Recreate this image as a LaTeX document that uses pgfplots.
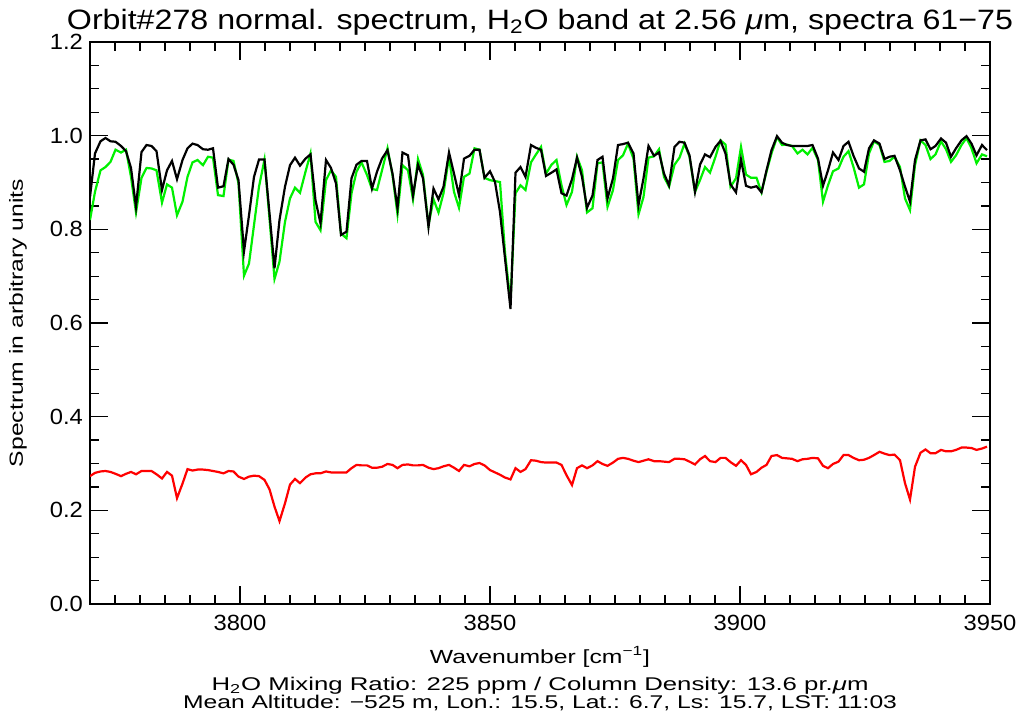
\documentclass[border=0pt]{standalone}
\usepackage{fontspec}
\setmainfont{Liberation Sans}
\newfontfamily\titlefont[FakeStretch=1.15]{Liberation Sans}
\newfontfamily\tickfont[FakeStretch=1.08]{Liberation Sans}
\newfontfamily\notefont[FakeStretch=1.3]{Liberation Sans}
\newfontfamily\lineAfont[FakeStretch=1.4]{Liberation Sans}
\newfontfamily\lineBfont[FakeStretch=1.34]{Liberation Sans}
\usepackage{pgfplots}
\usepackage{pgfplotstable}
\pgfplotsset{compat=1.18}

% columns: wavenumber, normalized spectrum (green), normalized spectrum (black), third spectrum (red)
\pgfplotstableread{
x g k r
3770.0 0.820 0.869 0.273
3771.0 0.880 0.962 0.280
3772.1 0.926 0.988 0.283
3773.1 0.933 0.995 0.284
3774.1 0.944 0.988 0.282
3775.1 0.970 0.987 0.278
3776.2 0.964 0.978 0.273
3777.2 0.970 0.967 0.278
3778.2 0.912 0.931 0.282
3779.2 0.836 0.848 0.277
3780.3 0.910 0.965 0.284
3781.3 0.931 0.980 0.284
3782.3 0.930 0.978 0.284
3783.3 0.926 0.967 0.277
3784.4 0.857 0.884 0.268
3785.4 0.896 0.926 0.282
3786.4 0.889 0.946 0.274
3787.4 0.830 0.907 0.226
3788.5 0.859 0.948 0.257
3789.5 0.912 0.973 0.288
3790.5 0.943 0.983 0.285
3791.5 0.948 0.980 0.287
3792.6 0.937 0.971 0.287
3793.6 0.955 0.970 0.286
3794.6 0.953 0.973 0.284
3795.6 0.873 0.889 0.282
3796.7 0.871 0.892 0.279
3797.7 0.949 0.950 0.284
3798.7 0.946 0.938 0.283
3799.7 0.898 0.905 0.272
3800.8 0.701 0.753 0.267
3801.8 0.727 0.830 0.272
3802.8 0.809 0.912 0.274
3803.8 0.891 0.949 0.273
3804.9 0.949 0.949 0.265
3805.9 0.823 0.834 0.245
3806.9 0.694 0.717 0.208
3807.9 0.731 0.820 0.177
3809.0 0.816 0.891 0.215
3810.0 0.866 0.937 0.255
3811.0 0.889 0.953 0.267
3812.0 0.878 0.936 0.258
3813.1 0.923 0.951 0.270
3814.1 0.962 0.960 0.277
3815.1 0.816 0.862 0.279
3816.1 0.798 0.813 0.279
3817.2 0.905 0.948 0.283
3818.2 0.926 0.931 0.281
3819.2 0.912 0.898 0.281
3820.2 0.791 0.788 0.281
3821.3 0.781 0.795 0.281
3822.3 0.877 0.909 0.290
3823.3 0.923 0.938 0.297
3824.3 0.943 0.946 0.296
3825.4 0.916 0.946 0.296
3826.4 0.886 0.887 0.291
3827.4 0.884 0.923 0.291
3828.4 0.926 0.951 0.293
3829.5 0.973 0.969 0.299
3830.5 0.916 0.919 0.297
3831.5 0.832 0.845 0.290
3832.5 0.937 0.964 0.297
3833.6 0.926 0.958 0.298
3834.6 0.864 0.872 0.296
3835.6 0.950 0.938 0.296
3836.6 0.916 0.909 0.297
3837.7 0.809 0.805 0.291
3838.7 0.864 0.887 0.288
3839.7 0.836 0.864 0.290
3840.7 0.877 0.891 0.294
3841.8 0.955 0.964 0.297
3842.8 0.880 0.919 0.291
3843.8 0.846 0.873 0.284
3844.8 0.912 0.951 0.297
3845.9 0.919 0.957 0.294
3846.9 0.973 0.970 0.299
3847.9 0.970 0.970 0.301
3848.9 0.910 0.910 0.296
3850.0 0.905 0.924 0.286
3851.0 0.903 0.901 0.281
3852.0 0.901 0.837 0.276
3853.0 0.750 0.738 0.270
3854.1 0.645 0.630 0.266
3855.1 0.877 0.921 0.290
3856.1 0.894 0.933 0.282
3857.1 0.884 0.912 0.288
3858.2 0.943 0.980 0.307
3859.2 0.960 0.974 0.306
3860.2 0.976 0.970 0.303
3861.2 0.919 0.914 0.302
3862.3 0.938 0.921 0.302
3863.3 0.948 0.928 0.302
3864.3 0.894 0.877 0.297
3865.3 0.852 0.872 0.275
3866.4 0.880 0.907 0.254
3867.4 0.955 0.953 0.290
3868.4 0.926 0.912 0.296
3869.4 0.836 0.846 0.290
3870.5 0.845 0.872 0.296
3871.5 0.941 0.948 0.305
3872.5 0.943 0.955 0.299
3873.5 0.848 0.866 0.295
3874.6 0.884 0.909 0.302
3875.6 0.948 0.980 0.310
3876.6 0.958 0.982 0.312
3877.6 0.983 0.985 0.310
3878.7 0.951 0.962 0.306
3879.7 0.832 0.852 0.303
3880.7 0.869 0.909 0.306
3881.7 0.953 0.978 0.309
3882.8 0.956 0.957 0.305
3883.8 0.971 0.964 0.305
3884.8 0.912 0.919 0.304
3885.8 0.891 0.894 0.303
3886.9 0.938 0.976 0.310
3887.9 0.953 0.987 0.310
3888.9 0.983 0.985 0.309
3889.9 0.955 0.958 0.304
3891.0 0.880 0.880 0.298
3892.0 0.905 0.938 0.309
3893.0 0.933 0.960 0.316
3894.0 0.921 0.954 0.305
3895.1 0.955 0.976 0.303
3896.1 0.990 0.989 0.312
3897.1 0.981 0.962 0.312
3898.1 0.891 0.896 0.303
3899.2 0.909 0.879 0.295
3900.2 0.976 0.949 0.307
3901.2 0.917 0.893 0.297
3902.2 0.910 0.889 0.277
3903.3 0.910 0.892 0.282
3904.3 0.879 0.879 0.291
3905.3 0.923 0.926 0.297
3906.3 0.962 0.969 0.316
3907.4 0.997 0.999 0.318
3908.4 0.980 0.985 0.312
3909.4 0.981 0.980 0.311
3910.4 0.978 0.978 0.310
3911.5 0.962 0.978 0.305
3912.5 0.970 0.978 0.309
3913.5 0.960 0.978 0.310
3914.5 0.974 0.980 0.312
3915.6 0.948 0.951 0.311
3916.6 0.859 0.893 0.295
3917.6 0.894 0.926 0.290
3918.6 0.924 0.964 0.299
3919.7 0.930 0.948 0.304
3920.7 0.955 0.978 0.318
3921.7 0.967 0.987 0.318
3922.7 0.933 0.957 0.312
3923.8 0.889 0.930 0.307
3924.8 0.896 0.923 0.308
3925.8 0.962 0.973 0.312
3926.8 0.988 0.990 0.318
3927.9 0.980 0.983 0.325
3928.9 0.944 0.950 0.321
3929.9 0.946 0.955 0.318
3930.9 0.955 0.957 0.319
3932.0 0.933 0.926 0.307
3933.0 0.866 0.891 0.258
3934.0 0.841 0.859 0.223
3935.0 0.937 0.948 0.293
3936.1 0.990 0.990 0.323
3937.1 0.980 0.992 0.330
3938.1 0.950 0.971 0.322
3939.1 0.960 0.978 0.322
3940.2 0.988 0.994 0.329
3941.2 0.971 0.985 0.326
3942.2 0.944 0.955 0.326
3943.2 0.958 0.973 0.329
3944.3 0.980 0.990 0.334
3945.3 0.995 0.999 0.334
3946.3 0.973 0.983 0.333
3947.3 0.941 0.958 0.329
3948.4 0.960 0.980 0.332
3949.4 0.956 0.969 0.336
}\spectra

\definecolor{idlgreen}{RGB}{0,240,0}
\definecolor{idlred}{RGB}{255,0,0}

\begin{document}
\begin{tikzpicture}
\begin{axis}[
  scale only axis,
  width=450pt, height=281pt,
  xmin=3770, xmax=3950,
  ymin=0, ymax=1.2,
  xtick={3800,3850,3900,3950},
  minor xtick={3775,3780,...,3945},
  ytick={0,0.2,...,1.2},
  minor ytick={0.05,0.1,...,1.15},
  major tick length=9pt,
  minor tick length=4.5pt,
  tick style={line width=0.6pt, black},
  axis line style={line width=0.75pt},
  tick label style={font=\tickfont\fontsize{11}{13}\selectfont},
  /pgf/number format/assume math mode=true,
  xticklabel style={/pgf/number format/set thousands separator={}, yshift=-2pt},
  yticklabel style={/pgf/number format/fixed,
                    /pgf/number format/fixed zerofill,
                    /pgf/number format/precision=1},
  title={Orbit\#278 normal. spectrum, H\textsubscript{2}O band at 2.56 {\itshape μ}m, spectra 61−75},
  title style={font=\titlefont\fontsize{14}{16}\selectfont, yshift=-6pt},
  ylabel={Spectrum in arbitrary units},
  ylabel style={font=\notefont\fontsize{9.5}{11}\selectfont,
                at={(axis description cs:-0.08,0.5)}, anchor=center},
  xlabel={Wavenumber [cm\textsuperscript{−1}]},
  xlabel style={font=\notefont\fontsize{9.5}{11}\selectfont,
                at={(axis description cs:0.5,0)}, anchor=base, yshift=-29.5pt},
]
\addplot[idlgreen, line width=1.1pt] table[x=x, y=g] {\spectra};
\addplot[black, line width=1.1pt] table[x=x, y=k] {\spectra};
\addplot[idlred, line width=1.1pt] table[x=x, y=r] {\spectra};
\end{axis}
% retrieval summary printed under the wavenumber axis
\node[font=\lineAfont\fontsize{9.2}{10}\selectfont, anchor=base, inner sep=0pt]
  at (225pt,-43.3pt)
  {H\textsubscript{2}O Mixing Ratio: 225 ppm / Column Density: 13.6 pr.{\itshape μ}m};
\node[font=\lineBfont\fontsize{9.2}{10}\selectfont, anchor=base, inner sep=0pt]
  at (225pt,-52.1pt)
  {Mean Altitude: −525 m, Lon.: 15.5, Lat.: 6.7, Ls: 15.7, LST: 11:03};
\pgfresetboundingbox
\path[use as bounding box] (-45pt,-60pt) rectangle (463.5pt,302pt);
\end{tikzpicture}
\end{document}
